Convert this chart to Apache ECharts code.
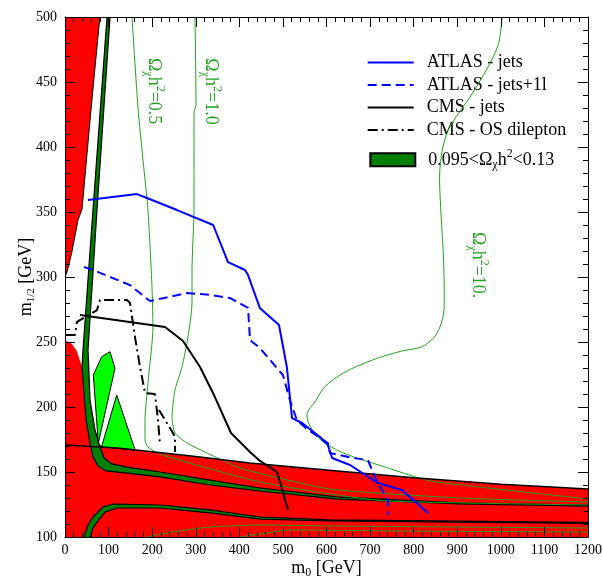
<!DOCTYPE html>
<html><head><meta charset="utf-8">
<script src="https://cdn.jsdelivr.net/npm/echarts@6/dist/echarts.min.js"></script>
<style>html,body{margin:0;padding:0;background:#fff;}#c{width:603px;height:581px;}</style>
</head><body><div id="c"></div>
<script>
const FONT = "'Liberation Serif','Times New Roman',serif";
const GREEN = '#22a022';

// axis ranges
const xRange = [0, 1200], xStep = 100;
const yRange = [100, 500], yStep = 50;

// excluded regions (m0, m1/2)
const redWedge = [[0,500],[80,500],[60,430],[39,352],[30,344],[15,318],[4,303],[0,301]];
const redLower = [[0,100],[0,251],[10,250],[18,247.7],[27,243],[34,236],[39,231],[48,190],[57,172],
  [126,168.3],[300,162],[424,157],[600,151.5],[800,145.5],[1000,140.5],[1200,137],[1200,100]];
const redTopLine = [[0,170.8],[126,168.3],[300,162],[424,157],[600,151.5],[800,145.5],[1000,140.5],[1200,137]];

// WMAP strip 0.095 < Omega h^2 < 0.13
const wmapOuter = [[96.4,500],[64.2,351.5],[41.3,243.8],[39,230.8],[48.2,190],[57.4,172.3],[64.2,161.5],
  [75.7,154.6],[94.1,150.8],[142.3,149.2],[218,146.2],[332.7,140],[447.4,135.4],[624,129.2],[906,125.4],[1200,123.8]];
const wmapInner = [[103.3,500],[73.4,351.5],[52.8,243.8],[57.4,205.4],[68.8,182.3],[80.3,169.2],[89.5,160.8],
  [107.8,156.2],[142.3,153.8],[218,150],[332.7,143.8],[447.4,137.7],[624,130.8],[906,126.2],[1200,124.6]];
const wmapLowOuter = [[42,95],[43.6,100],[52.8,109.2],[64.2,115.4],[87.2,123.1],[110,125.4],[218,124.6],
  [332.7,120.8],[447.4,115.4],[608,113.1],[1200,111.2]];
const wmapLowInner = [[56,95],[57.4,100],[64.2,106.9],[73.4,111.5],[91.8,119.2],[119.3,122.3],[218,122.3],
  [332.7,118.5],[447.4,113.8],[608,112.3],[1200,110.4]];
const limeA = [[65,224.6],[84.2,238.7],[103.3,242.5],[114.7,229.8],[76.4,172.1]];
const limeB = [[84,169.5],[118.6,209.2],[161,166.8]];

// experimental limits
const atlasJets = [[52.8,359.2],[165,363.8],[188,360.8],[257,351.5],[340,340],[374,311.5],[413,305.4],[420,301.5],
  [447,276.2],[491,263.1],[509,230.8],[521,191.5],[544,187.7],[585,176.9],[603,170.8],[613,160.8],[654,155.4],
  [718,141.5],[773,136.2],[833,118.5]];
const atlasJets1l = [[43.6,307.7],[64.2,305.4],[149,293.8],[195,281.5],[280,287.7],[333,286.2],[379,283.8],
  [420,276.2],[424.5,251.5],[447,245.4],[500,224.6],[516,205.4],[532,190],[558,182.3],[603,172.3],[608,164.6],
  [661,160.8],[695,159.2],[716,142.3],[741,128.5],[741,116.9]];
const cmsJets = [[34.4,270.8],[229.5,261.5],[270.8,250.8],[309.8,230.8],[339.6,210.8],[380.9,180],[424.5,165.4],
  [447.4,158.5],[486.4,150],[511.7,120.8]];
const cmsOS = [[2.3,255.4],[22.9,255.4],[27.5,265.4],[73.4,274.6],[80.3,282.3],[142.3,282.3],[149.1,280],
  [160.6,253.8],[172.1,230.8],[183.6,210.8],[206.5,210],[213.4,190],[218,170.8]];
const cmsOS2 = [[215.7,197.7],[247.8,180],[252.4,176.2],[252.4,165.4]];

// relic density contours
const omega05 = [[153.7,500],[167.5,430],[179,390],[190.4,351.5],[199.6,292.3],[201.9,261.5],[190.4,218.5],
  [183.6,190],[183.6,174.6],[190.4,169.2],[218,163.8],[309.8,154.6],[447.4,142.3],[608,133.1],[738.8,127.7],[1200,124.6]];
const omega1 = [[298.3,500],[300.6,432.3],[296,426.9],[296,351.5],[291.4,305.4],[291.4,280],[282.2,253.8],
  [268.5,230.8],[252.4,213.1],[245.5,192.3],[252.4,180],[280,172.3],[325.8,164.6],[394.7,153.8],[424.5,150.8],
  [608,136.9],[906,130],[1200,126.9]];
const omega10 = [[1002.8,500],[992.3,476.9],[939.7,443.8],[885.3,416.9],[867,400],[859.4,376.2],[863.6,343.8],
  [867.9,318.5],[870,292.3],[870,276.9],[863.6,264.6],[847.6,253.8],[818.1,246.2],[773,243.1],[705.7,236.2],
  [638.9,226.2],[595.5,215.4],[576.6,205.4],[555.2,193.8],[560.8,186.2],[586.9,174.6],[638.9,164.6],
  [734.3,153.8],[829.1,143.8],[871.5,141.5],[1200,129.2]];
const omegaLow1 = [[188,100],[245.5,103.8],[332.7,107.7],[447.4,109.2],[608,108.5],[1200,106.9]];
const omegaLow2 = [[401.5,100],[447.4,102.3],[516.3,105.4],[768.6,104.6],[1200,103.8]];

// labels
const legendNames = ['ATLAS - jets', 'ATLAS - jets+1l', 'CMS - jets', 'CMS - OS dilepton'];
const bandName = 'WMAP';
const omegaLabels = [
  {pos: [204, 468.5], val: '0.5'},
  {pos: [335, 468.2], val: '1.0'},
  {pos: [947.6, 334.6], val: '10.'}
];

function poly(name, pts, fill, stroke, lw, z) {
  return {
    type: 'custom', name: name, coordinateSystem: 'cartesian2d', clip: true, silent: true, z: z,
    itemStyle: {color: fill, borderColor: stroke || fill, borderWidth: lw || 0},
    data: [[600, 300]],
    renderItem: function (params, api) {
      return {type: 'polygon', shape: {points: pts.map(function (p) { return api.coord(p); })},
        style: {fill: fill, stroke: stroke || null, lineWidth: lw || 0}};
    }
  };
}
function band(name, outer, inner, z) {
  return poly(name, outer.concat(inner.slice().reverse()), '#008000', '#000', 1.2, z);
}
function line(name, pts, color, width, type, z, smooth) {
  return {
    type: 'line', name: name, data: pts, symbol: 'none', showSymbol: false, silent: true, z: z,
    smooth: smooth || false, lineStyle: {color: color, width: width, type: type || 'solid'},
    itemStyle: {color: color, opacity: 0}
  };
}

const axisCommon = {
  type: 'value', z: 10,
  axisLine: {show: true, onZero: false, lineStyle: {color: '#000', width: 1}},
  axisTick: {show: true, inside: true, length: 10, lineStyle: {color: '#000', width: 1}},
  minorTick: {show: true, splitNumber: 5, length: 5, lineStyle: {color: '#000', width: 1}},
  splitLine: {show: false}, minorSplitLine: {show: false}
};
const nameStyle = {fontFamily: FONT, fontSize: 18, color: '#000',
  rich: {s: {fontFamily: FONT, fontSize: 12, color: '#000', padding: [10, 0, 0, 0]}}};
const plain = function (v) { return String(v); };

const chart = echarts.init(document.getElementById('c'), null, {renderer: 'canvas'});
const option = {
  animation: false,
  backgroundColor: '#fff',
  grid: {left: 65, right: 15, top: 17, bottom: 44, containLabel: false, outerBoundsMode: 'none'},
  xAxis: [
    Object.assign({}, axisCommon, {min: xRange[0], max: xRange[1], interval: xStep, position: 'bottom',
      axisLabel: {margin: 6, fontFamily: FONT, fontSize: 14, color: '#000', formatter: plain},
      name: 'm{s|0} [GeV]', nameLocation: 'middle', nameGap: 20, nameMoveOverlap: false, nameTextStyle: nameStyle}),
    Object.assign({}, axisCommon, {min: xRange[0], max: xRange[1], interval: xStep, position: 'top',
      axisLabel: {show: false}})
  ],
  yAxis: [
    Object.assign({}, axisCommon, {min: yRange[0], max: yRange[1], interval: yStep, position: 'left',
      axisLabel: {margin: 8, fontFamily: FONT, fontSize: 14, color: '#000', formatter: plain},
      name: 'm{s|1/2} [GeV]', nameLocation: 'middle', nameRotate: 90, nameGap: 28, nameMoveOverlap: false,
      nameTextStyle: {fontFamily: FONT, fontSize: 18, color: '#000',
        rich: {s: {fontFamily: FONT, fontSize: 11, color: '#000', padding: [10, 0, 0, 0]}}}}),
    Object.assign({}, axisCommon, {min: yRange[0], max: yRange[1], interval: yStep, position: 'right',
      axisLabel: {show: false}})
  ],
  legend: [
    {
      orient: 'vertical', left: 364.7, top: 51.5, padding: [2, 6, 2, 2], itemWidth: 46, itemHeight: 14, itemGap: 4.5,
      backgroundColor: '#fff', selectedMode: false, data: legendNames,
      itemStyle: {opacity: 0},
      formatter: function (n) { return '{t|' + n + '}'; },
      textStyle: {fontFamily: FONT, fontSize: 18, color: '#000',
        rich: {t: {fontFamily: FONT, fontSize: 18, color: '#000', padding: [0, 0, 0, 8]}}}
    },
    {
      orient: 'vertical', left: 367.3, top: 146.3, padding: 2, itemWidth: 45, itemHeight: 13, icon: 'rect',
      selectedMode: false, data: [bandName],
      formatter: function () { return '{t0|0.095<Ω}{sub|χ}{t|h}{sup|2}{t|<0.13}'; },
      textStyle: {fontFamily: FONT, fontSize: 18, color: '#000',
        rich: {
          t0: {fontFamily: FONT, fontSize: 18, color: '#000', padding: [0, 0, 0, 8]},
          t: {fontFamily: FONT, fontSize: 18, color: '#000'},
          sub: {fontFamily: FONT, fontSize: 12, color: '#000', padding: [11, 0, 0, 0]},
          sup: {fontFamily: FONT, fontSize: 12, color: '#000', padding: [0, 0, 11, 0]}
        }}
    }
  ],
  series: [
    poly('redWedge', redWedge, '#ff0000', '#000', 1, 1),
    poly('redLower', redLower, '#ff0000', null, 0, 1),
    poly('limeA', limeA, '#00ff00', '#000', 1, 2),
    poly('limeB', limeB, '#00ff00', '#000', 1, 2),
    band(bandName, wmapOuter, wmapInner, 3),
    band('wmapLow', wmapLowOuter, wmapLowInner, 3),
    line('omega05', omega05, GREEN, 1, 'solid', 4, 0.2),
    line('omega1', omega1, GREEN, 1, 'solid', 4, 0.2),
    line('omega10', omega10, GREEN, 1, 'solid', 4, 0.3),
    line('omegaLow1', omegaLow1, GREEN, 1, 'solid', 4, 0.2),
    line('omegaLow2', omegaLow2, GREEN, 1, 'solid', 4, 0.2),
    line('redTop', redTopLine, '#000', 1.5, 'solid', 5),
    line(legendNames[0], atlasJets, '#0000ff', 2, 'solid', 6),
    line(legendNames[1], atlasJets1l, '#0000ff', 2, [9, 5], 6),
    line(legendNames[2], cmsJets, '#000', 2, 'solid', 6),
    line(legendNames[3], cmsOS, '#000', 2, [10, 4, 2, 4], 6),
    line(legendNames[3], cmsOS2, '#000', 2, [10, 4, 2, 4], 6)
  ]
};
chart.setOption(option);

const graphics = omegaLabels.map(function (l) {
  const p = chart.convertToPixel({gridIndex: 0}, l.pos);
  return {
    type: 'text', x: p[0], y: p[1], rotation: -Math.PI / 2, z: 100, silent: true,
    style: {
      text: 'Ω{sub|χ}h{sup|2}=' + l.val, fill: GREEN, fontFamily: FONT, fontSize: 18,
      align: 'left', verticalAlign: 'middle',
      rich: {
        sub: {fontFamily: FONT, fontSize: 12, fill: GREEN, padding: [12, 0, 0, 0]},
        sup: {fontFamily: FONT, fontSize: 12, fill: GREEN, padding: [0, 0, 12, 0]}
      }
    }
  };
});
chart.setOption({graphic: graphics});
</script></body></html>
